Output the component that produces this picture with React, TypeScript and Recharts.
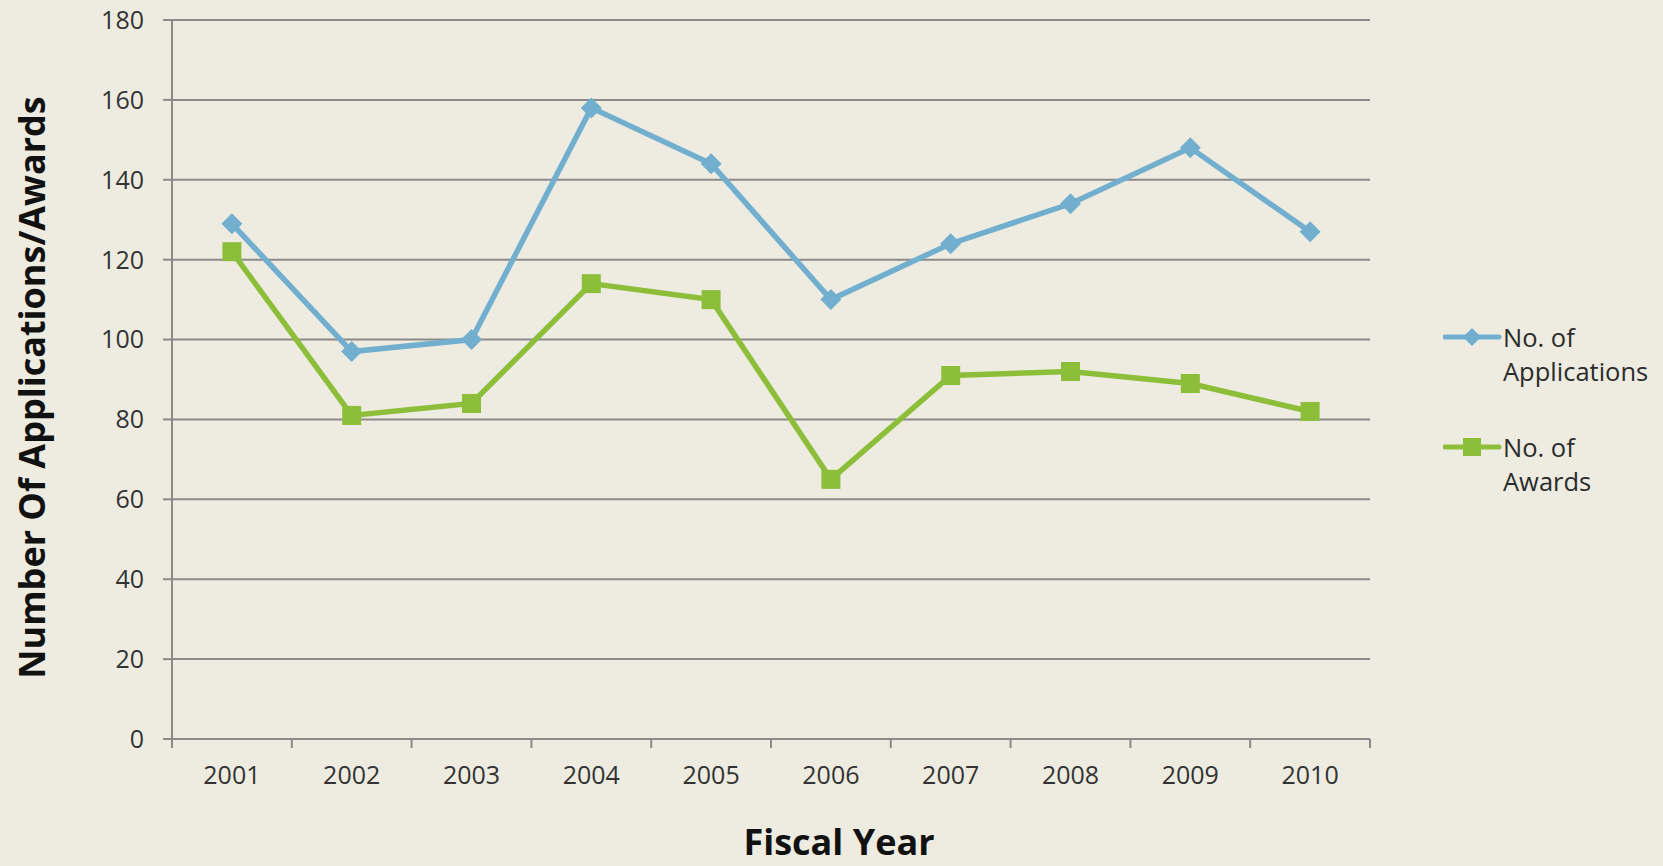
import React from "react";
import {
  LineChart, Line, XAxis, YAxis, CartesianGrid, Label,
} from "recharts";

const years = ["2001", "2002", "2003", "2004", "2005", "2006", "2007", "2008", "2009", "2010"];
const applications = [129, 97, 100, 158, 144, 110, 124, 134, 148, 127];
const awards = [122, 81, 84, 114, 110, 65, 91, 92, 89, 82];
const yTicks = [0, 20, 40, 60, 80, 100, 120, 140, 160, 180];

const BLUE = "#72AFCF";
const GREEN = "#8DBE3A";
const GRID = "#8A8A8A";
const BG = "#EEECE1";
const FONT = "'Open Sans', sans-serif";

const data = years.map((y, i) => ({
  x: i + 1,
  year: y,
  applications: applications[i],
  awards: awards[i],
}));

// category centres get a label, category boundaries get a tick mark
const xTicks: number[] = [0.5];
years.forEach((_, i) => xTicks.push(i + 1, i + 1.5));

const XTick = (props: any) => {
  const { x, y, payload } = props;
  const v = payload.value;
  if (Number.isInteger(v)) {
    return (
      <text x={x} y={y + 27} dy="0.71em" textAnchor="middle" fontSize={25} fontFamily={FONT} fill="#333333">
        {years[v - 1]}
      </text>
    );
  }
  return <line x1={x} y1={y} x2={x} y2={y + 9} stroke={GRID} strokeWidth={2} />;
};

const Diamond = (props: any) => {
  const { cx, cy, index } = props;
  if (cx == null || cy == null) return <g key={index} />;
  const r = 10.5;
  return (
    <polygon
      key={index}
      points={`${cx},${cy - r} ${cx + r},${cy} ${cx},${cy + r} ${cx - r},${cy}`}
      fill={BLUE}
    />
  );
};

const Square = (props: any) => {
  const { cx, cy, index } = props;
  if (cx == null || cy == null) return <g key={index} />;
  const s = 19;
  return <rect key={index} x={cx - s / 2} y={cy - s / 2} width={s} height={s} fill={GREEN} />;
};

function LegendItem({ color, marker, lines }: { color: string; marker: "diamond" | "square"; lines: string[] }) {
  return (
    <div style={{ display: "flex", alignItems: "flex-start" }}>
      <svg width={60} height={34} style={{ flex: "none" }}>
        <line x1={2} y1={17} x2={56} y2={17} stroke={color} strokeWidth={5} strokeLinecap="round" />
        {marker === "diamond" ? (
          <polygon points="29,8 38,17 29,26 20,17" fill={color} />
        ) : (
          <rect x={20} y={8} width={18} height={18} fill={color} />
        )}
      </svg>
      <div style={{ fontFamily: FONT, fontSize: 25.5, lineHeight: "34px", color: "#2b2b2b" }}>
        {lines.map((l) => (
          <div key={l}>{l}</div>
        ))}
      </div>
    </div>
  );
}

export default function App() {
  return (
    <div style={{ position: "absolute", left: 0, top: 0, width: 1663, height: 866, background: BG }}>
      <LineChart
        width={1663}
        height={866}
        data={data}
        margin={{ top: 20, right: 293, left: 0, bottom: 0 }}
      >
        <CartesianGrid vertical={false} stroke={GRID} strokeWidth={2} />
        <XAxis
          dataKey="x"
          type="number"
          domain={[0.5, 10.5]}
          ticks={xTicks}
          tick={<XTick />}
          interval={0}
          height={127}
          tickSize={0}
          tickMargin={0}
          axisLine={{ stroke: GRID, strokeWidth: 2 }}
          tickLine={false}
        >
          <Label
            value="Fiscal Year"
            position="insideBottom"
            offset={11}
            dx={68}
            style={{ fontSize: 36, fontFamily: FONT, fontWeight: 700, fill: "#111111" }}
          />
        </XAxis>
        <YAxis
          domain={[0, 180]}
          ticks={yTicks}
          interval={0}
          width={172}
          tickSize={9}
          tickMargin={19}
          axisLine={{ stroke: GRID, strokeWidth: 2 }}
          tickLine={{ stroke: GRID, strokeWidth: 2 }}
          tick={{ fontSize: 25, fontFamily: FONT, fill: "#333333" }}
        >
          <Label
            value="Number Of Applications/Awards"
            angle={-90}
            position="center"
            dx={-54}
            dy={8}
            style={{ fontSize: 36, fontFamily: FONT, fontWeight: 700, fill: "#111111", textAnchor: "middle" }}
          />
        </YAxis>
        <Line
          type="linear"
          dataKey="applications"
          name="No. of Applications"
          stroke={BLUE}
          strokeWidth={5.5}
          dot={<Diamond />}
          activeDot={false}
          isAnimationActive={false}
        />
        <Line
          type="linear"
          dataKey="awards"
          name="No. of Awards"
          stroke={GREEN}
          strokeWidth={5.5}
          dot={<Square />}
          activeDot={false}
          isAnimationActive={false}
        />
      </LineChart>
      <div style={{ position: "absolute", left: 1443, top: 320 }}>
        <LegendItem color={BLUE} marker="diamond" lines={["No. of", "Applications"]} />
        <div style={{ height: 42 }} />
        <LegendItem color={GREEN} marker="square" lines={["No. of", "Awards"]} />
      </div>
    </div>
  );
}
